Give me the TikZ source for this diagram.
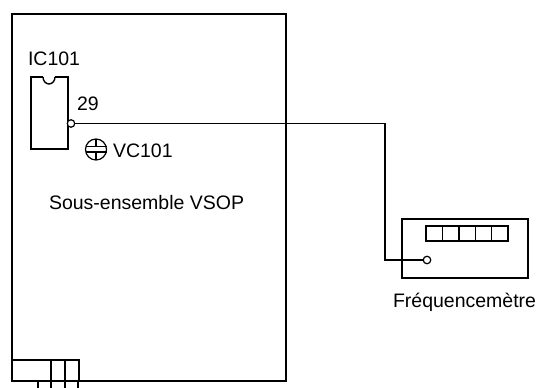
\documentclass[tikz,border=0pt]{standalone}
\usepackage{fontspec}
\setmainfont{Liberation Sans}
\usetikzlibrary{positioning}

\begin{document}
\begin{tikzpicture}[
  x=1pt, y=-1pt,
  outer sep=0pt,
  boite/.style={draw, line width=1.8pt, inner sep=0pt, anchor=north west},
  cellule/.style={draw, line width=1.4pt, inner sep=0pt, minimum width=16.4pt, minimum height=15pt},
  connecteur/.style={draw, line width=1.3pt, inner sep=0pt, anchor=north west, minimum height=21pt},
  borne/.style={draw, circle, line width=1.2pt, fill=white, inner sep=0pt, minimum size=7.5pt},
  texte/.style={inner sep=0pt, anchor=base west, font=\fontsize{19.5}{22}\selectfont},
  fil/.style={line width=1.1pt}
]
\useasboundingbox (0,0) rectangle (546,388);
% sous-ensemble
\node[boite, minimum width=274pt, minimum height=367pt] (vsop) at (12,14) {};
\node[boite, line width=1.4pt, minimum width=37pt, minimum height=72pt] (ic) at (31,77) {};
\node[connecteur, minimum width=39pt] (c1) at (12,360) {};
\node[connecteur, minimum width=14pt, right=0pt of c1.north east, anchor=north west] (c2) {};
\node[connecteur, minimum width=14pt, right=0pt of c2.north east, anchor=north west] (c3) {};
\node[borne] (p29) at (71,123.5) {};
\node[texte] (nic) at (28,65) {IC101};
\node[texte] (n29) at (77,110) {29};
\node[texte] (tvsop) at (49,209) {Sous-ensemble VSOP};
% condensateur
\node[draw, circle, line width=1.2pt, inner sep=0pt, minimum size=21pt] (vc) at (96,149.5) {};
\node[texte] (nvc) at (113,157) {VC101};
\draw[fil] (vc.west |- 0,146.5) -- (vc.east |- 0,146.5);
\draw[fil] (vc.west |- 0,152) -- (vc.east |- 0,152);
\draw[fil] (vc.north) -- (96,146.5);
\draw[fil] (96,152) -- (vc.south);
% encoche
\fill[white] (43,76) rectangle (55,78);
\draw[line width=1.4pt] (43,77) arc[start angle=180, end angle=360, x radius=6pt, y radius=7pt];
% frequencemetre
\node[boite, line width=1.6pt, minimum width=126pt, minimum height=59pt] (freq) at (402,219) {};
\node[cellule] (d1) at (434.2,233.5) {};
\foreach \i [remember=\i as \j (initially 1)] in {2,...,5}
  \node[cellule, right=0pt of d\j] (d\i) {};
\node[borne] (entree) at (427,260) {};
\node[texte] (nfreq) at (393,307) {Fréquencemètre};
% liaisons
\coordinate (coude) at (385,123.5);
\draw[fil] (p29) -- (coude) |- (entree);
\foreach \x/\n in {38/a,51/b,65/c,78/d} {
  \coordinate (h\n) at (\x,381);
  \coordinate (b\n) at (\x,388);
  \draw[line width=1.3pt] (h\n) -- (b\n);
}
\end{tikzpicture}
\end{document}
